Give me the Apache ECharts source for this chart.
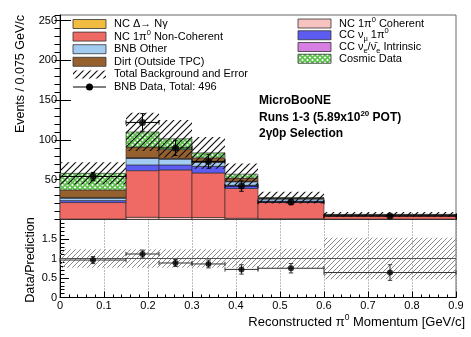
<!DOCTYPE html>
<html><head><meta charset="utf-8">
<script src="https://cdn.jsdelivr.net/npm/echarts@6/dist/echarts.min.js"></script>
<style>html,body{margin:0;padding:0;background:#fff}#c{width:471px;height:337px}</style>
</head><body><div id="c"></div>
<script>
// ---------------- data (per 0.075 GeV/c) ----------------
const binEdges       = [0, 0.15, 0.225, 0.3, 0.375, 0.45, 0.6, 0.9];
const ncCoherent     = [0.6, 2.8, 2.5, 2.5, 1.5, 1.0, 0.5];
const ncNonCoherent  = [20.7, 58.6, 59.8, 56.0, 37.5, 20.5, 4.0];
const ccNumu1pi0     = [2.5, 7.2, 6.3, 8.3, 4.0, 1.5, 0.5];
const bnbOther       = [3.2, 8.4, 7.4, 5.2, 4.5, 3.0, 0.6];
const ccNueIntrinsic = [0.2, 0.3, 0.3, 0.3, 0.2, 0.1, 0.05];
const ncDelta        = [0.6, 0.5, 0.5, 0.4, 0.3, 0.2, 0.1];
const dirt           = [9.4, 13.2, 11.2, 4.8, 4.0, 0.7, 0.3];
const cosmicData     = [20.8, 19.0, 13.5, 6.3, 5.0, 0.5, 0.4];
const bkgError       = [14, 24, 23.5, 20, 13.5, 7.5, 3.1];
const bnbData        = [54, 122, 90, 73, 42, 22, 4.25];
const bnbDataErr     = [5.2, 11, 9.5, 8.5, 6.5, 3.3, 1.0];
const ratioVals      = [0.96, 1.115, 0.885, 0.86, 0.72, 0.75, 0.64];
const ratioErr       = [0.09, 0.10, 0.09, 0.10, 0.12, 0.12, 0.20];
const ratioBand      = [0.24, 0.24, 0.24, 0.24, 0.24, 0.25, 0.53];
const xTickLabels    = ['0','0.1','0.2','0.3','0.4','0.5','0.6','0.7','0.8','0.9'];
const yTickLabelsTop = [50, 100, 150, 200, 250];
const yTickLabelsRatio = [0, 0.5, 1, 1.5];

// ---------------- styling ----------------
const FONT = 'Liberation Sans, Arial, Helvetica, sans-serif';
const C = {
  coh: '#f7c3c1', nonCoh: '#ef6a64', numu: '#5c5cf2', bnbOther: '#a3ccf3',
  nue: '#d77ee2', delta: '#f0bd42', dirt: '#97612f', cosmic: '#5cc24b'
};
function hatchCanvas(size, color, lw) {
  const c = document.createElement('canvas'); c.width = c.height = size;
  const g = c.getContext('2d'); g.strokeStyle = color; g.lineWidth = lw;
  g.beginPath();
  g.moveTo(0, size); g.lineTo(size, 0);
  g.moveTo(-size / 2, size / 2); g.lineTo(size / 2, -size / 2);
  g.moveTo(size / 2, size * 1.5); g.lineTo(size * 1.5, size / 2);
  g.stroke(); return c;
}
function crossCanvas(size, bg, color, lw) {
  const c = document.createElement('canvas'); c.width = c.height = size;
  const g = c.getContext('2d'); g.fillStyle = bg; g.fillRect(0, 0, size, size);
  g.strokeStyle = color; g.lineWidth = lw; g.beginPath();
  g.moveTo(0, 0); g.lineTo(size, size); g.moveTo(0, size); g.lineTo(size, 0);
  g.stroke(); return c;
}
const hatchBlack = { image: hatchCanvas(7, '#111', 1.2), repeat: 'repeat' };
const hatchGray  = { image: hatchCanvas(5, '#8a8a8a', 1), repeat: 'repeat' };
const cosmicFill = { image: crossCanvas(5, '#ffffff', C.cosmic, 1.6), repeat: 'repeat' };

const nb = binEdges.length - 1;

function rectRender(fill, stroke, lw) {
  return function (params, api) {
    const a = api.coord([api.value(0), api.value(3)]);
    const b = api.coord([api.value(1), api.value(2)]);
    return { type: 'rect', shape: { x: a[0], y: a[1], width: b[0] - a[0], height: b[1] - a[1] },
      style: { fill: fill, stroke: stroke, lineWidth: lw } };
  };
}
function errRender(color, cap) {
  return function (params, api) {
    const xc = api.value(0), x0 = api.value(1), x1 = api.value(2), y = api.value(3), e = api.value(4);
    const l = api.coord([x0, y]), r = api.coord([x1, y]);
    const t = api.coord([xc, y + e]), b = api.coord([xc, y - e]);
    const st = { stroke: color, lineWidth: 1 };
    return { type: 'group', children: [
      { type: 'line', shape: { x1: l[0], y1: l[1], x2: r[0], y2: r[1] }, style: st },
      { type: 'line', shape: { x1: l[0], y1: l[1] - cap, x2: l[0], y2: l[1] + cap }, style: st },
      { type: 'line', shape: { x1: r[0], y1: r[1] - cap, x2: r[0], y2: r[1] + cap }, style: st },
      { type: 'line', shape: { x1: t[0], y1: t[1], x2: b[0], y2: b[1] }, style: st },
      { type: 'line', shape: { x1: t[0] - cap, y1: t[1], x2: t[0] + cap, y2: t[1] }, style: st },
      { type: 'line', shape: { x1: b[0] - cap, y1: b[1], x2: b[0] + cap, y2: b[1] }, style: st }
    ] };
  };
}

const components = [
  { name: 'NC 1pi0 Coherent', vals: ncCoherent, fill: C.coh },
  { name: 'NC 1pi0 Non-Coherent', vals: ncNonCoherent, fill: C.nonCoh },
  { name: 'CC numu 1pi0', vals: ccNumu1pi0, fill: C.numu },
  { name: 'BNB Other', vals: bnbOther, fill: C.bnbOther },
  { name: 'CC nue Intrinsic', vals: ccNueIntrinsic, fill: C.nue },
  { name: 'NC Delta', vals: ncDelta, fill: C.delta },
  { name: 'Dirt', vals: dirt, fill: C.dirt },
  { name: 'Cosmic Data', vals: cosmicData, fill: cosmicFill }
];
const series = [];
const cum = new Array(nb).fill(0);
components.forEach(function (c) {
  const rows = [];
  for (let i = 0; i < nb; i++) {
    rows.push([binEdges[i], binEdges[i + 1], cum[i], cum[i] + c.vals[i]]);
    cum[i] += c.vals[i];
  }
  series.push({ type: 'custom', name: c.name, xAxisIndex: 0, yAxisIndex: 0, z: 2,
    renderItem: rectRender(c.fill, 'rgba(40,40,40,0.85)', 0.7), data: rows,
    encode: { x: [0, 1], y: [2, 3] } });
});
const totals = cum.slice();
// total background error band
series.push({ type: 'custom', name: 'Total Background and Error', xAxisIndex: 0, yAxisIndex: 0, z: 3,
  renderItem: rectRender(hatchBlack, null, 0),
  data: totals.map(function (t, i) { return [binEdges[i], binEdges[i + 1], t - bkgError[i], t + bkgError[i]]; }),
  encode: { x: [0, 1], y: [2, 3] } });
// BNB data
const centers = binEdges.slice(0, nb).map(function (e, i) { return (e + binEdges[i + 1]) / 2; });
series.push({ type: 'custom', name: 'BNB Data err', xAxisIndex: 0, yAxisIndex: 0, z: 4,
  renderItem: errRender('#000', 2.2),
  data: bnbData.map(function (v, i) { return [centers[i], binEdges[i], binEdges[i + 1], v, bnbDataErr[i]]; }),
  encode: { x: 0, y: 3 } });
series.push({ type: 'scatter', name: 'BNB Data', xAxisIndex: 0, yAxisIndex: 0, z: 5,
  symbol: 'circle', symbolSize: 7, itemStyle: { color: '#000' },
  data: bnbData.map(function (v, i) { return [centers[i], v]; }) });
// ratio panel
series.push({ type: 'custom', name: 'Ratio band', xAxisIndex: 1, yAxisIndex: 2, z: 2,
  renderItem: rectRender(hatchGray, null, 0),
  data: ratioBand.map(function (b, i) { return [binEdges[i], binEdges[i + 1], 1 - b, 1 + b]; }),
  encode: { x: [0, 1], y: [2, 3] } });
series.push({ type: 'line', name: 'Unity', xAxisIndex: 1, yAxisIndex: 2, z: 3, symbol: 'none',
  lineStyle: { color: '#555', width: 1 }, data: [[binEdges[0], 1], [binEdges[nb], 1]] });
series.push({ type: 'custom', name: 'Ratio err', xAxisIndex: 1, yAxisIndex: 2, z: 4,
  renderItem: errRender('#333', 2.2),
  data: ratioVals.map(function (v, i) { return [centers[i], binEdges[i], binEdges[i + 1], v, ratioErr[i]]; }),
  encode: { x: 0, y: 3 } });
series.push({ type: 'scatter', name: 'Ratio', xAxisIndex: 1, yAxisIndex: 2, z: 5,
  symbol: 'circle', symbolSize: 6, itemStyle: { color: '#000' },
  data: ratioVals.map(function (v, i) { return [centers[i], v]; }) });
// ratio-axis tick labels, placed through the ratio y scale
series.push({ type: 'custom', name: 'Ratio tick labels', xAxisIndex: 1, yAxisIndex: 2, z: 6,
  clip: false, silent: true,
  renderItem: function (params, api) {
    const p = api.coord([binEdges[0], api.value(0)]);
    return { type: 'text', x: p[0] - 3, y: p[1], style: { text: String(api.value(0)), fontSize: 11,
      fontFamily: FONT, fill: '#000', align: 'right', verticalAlign: 'middle' } };
  },
  data: yTickLabelsRatio.map(function (v) { return [v]; }), encode: { y: 0 } });

// ---------------- legend & text (graphic) ----------------
const rich = {
  sup: { fontSize: 7.5, lineHeight: 8, verticalAlign: 'top', fontFamily: FONT, fill: '#000' },
  sub: { fontSize: 7.5, lineHeight: 8, verticalAlign: 'bottom', fontFamily: FONT, fill: '#000' }
};
const richBig = {
  sup: { fontSize: 8.5, lineHeight: 9, verticalAlign: 'top', fontFamily: FONT, fill: '#000' }
};
const legendLeft = [
  { label: 'NC Δ→ Nγ', kind: 'box', fill: C.delta },
  { label: 'NC 1π{sup|0} Non-Coherent', kind: 'box', fill: C.nonCoh },
  { label: 'BNB Other', kind: 'box', fill: C.bnbOther },
  { label: 'Dirt (Outside TPC)', kind: 'box', fill: C.dirt },
  { label: 'Total Background and Error', kind: 'hatch' },
  { label: 'BNB Data, Total: 496', kind: 'data' }
];
const legendRight = [
  { label: 'NC 1π{sup|0} Coherent', kind: 'box', fill: C.coh },
  { label: 'CC ν{sub|μ} 1π{sup|0}', kind: 'box', fill: C.numu },
  { label: 'CC ν{sub|e}/ν\u0304{sub|e} Intrinsic', kind: 'box', fill: C.nue },
  { label: 'Cosmic Data', kind: 'box', fill: cosmicFill }
];
const graphics = [];
function addLegend(items, x0, y0, step) {
  items.forEach(function (it, i) {
    const y = y0 + i * step;
    if (it.kind === 'box') {
      graphics.push({ type: 'rect', shape: { x: x0, y: y - 4.5, width: 33, height: 9 },
        style: { fill: it.fill, stroke: '#333', lineWidth: 0.8 }, z: 10 });
    } else if (it.kind === 'hatch') {
      graphics.push({ type: 'rect', shape: { x: x0, y: y - 4, width: 33, height: 8 },
        style: { fill: hatchBlack }, z: 10 });
    } else {
      graphics.push({ type: 'line', shape: { x1: x0, y1: y, x2: x0 + 33, y2: y },
        style: { stroke: '#000', lineWidth: 1 }, z: 10 });
      graphics.push({ type: 'circle', shape: { cx: x0 + 16.5, cy: y, r: 3.5 },
        style: { fill: '#000' }, z: 10 });
    }
    graphics.push({ type: 'text', x: x0 + 41, y: y, z: 10,
      style: { text: it.label, fontSize: 11, fontFamily: FONT, fill: '#000', lineHeight: 16,
        verticalAlign: 'middle', align: 'left', rich: rich } });
  });
}
addLegend(legendLeft, 73, 24, 12.6);
addLegend(legendRight, 298, 23.5, 11.75);

const boldRich = {
  sup: { fontSize: 8, lineHeight: 8, verticalAlign: 'top', fontFamily: FONT, fontWeight: 'bold', fill: '#000' }
};
['MicroBooNE', 'Runs 1-3 (5.89x10{sup|20} POT)', '2γ0p Selection'].forEach(function (t, i) {
  graphics.push({ type: 'text', x: 259, y: 101 + i * 16.5, z: 10,
    style: { text: t, fontSize: 12, fontWeight: 'bold', fontFamily: FONT, fill: '#000', lineHeight: 16,
      verticalAlign: 'middle', align: 'left', rich: boldRich } });
});
graphics.push({ type: 'text', x: 21, y: 15, rotation: Math.PI / 2, z: 10,
  style: { text: 'Events / 0.075 GeV/c', fontSize: 12.5, fontFamily: FONT, fill: '#000',
    align: 'right', verticalAlign: 'middle' } });
graphics.push({ type: 'text', x: 31, y: 260, rotation: Math.PI / 2, z: 10,
  style: { text: 'Data/Prediction', fontSize: 12.5, fontFamily: FONT, fill: '#000',
    align: 'center', verticalAlign: 'middle' } });
graphics.push({ type: 'text', x: 465, y: 322, z: 10,
  style: { text: 'Reconstructed π{sup|0} Momentum [GeV/c]', fontSize: 13, fontFamily: FONT, fill: '#000',
    lineHeight: 17, align: 'right', verticalAlign: 'middle', rich: richBig } });

// ---------------- chart ----------------
const axisCommon = { axisLine: { show: true, onZero: false, lineStyle: { color: '#000', width: 1 } },
  splitLine: { show: false } };
const option = {
  animation: false,
  backgroundColor: '#fff',
  grid: [
    { left: 60, right: 15, top: 15, height: 204.5, show: true, borderColor: '#666', borderWidth: 1 },
    { left: 60, right: 15, top: 219.5, height: 78, show: true, borderColor: '#666', borderWidth: 1 }
  ],
  xAxis: [
    Object.assign({}, axisCommon, { gridIndex: 0, type: 'value', min: 0, max: 0.9, interval: 0.1,
      axisTick: { inside: true, length: 6, lineStyle: { color: '#000' } },
      minorTick: { show: true, splitNumber: 5, length: 3, lineStyle: { color: '#000' } },
      axisLabel: { show: false } }),
    Object.assign({}, axisCommon, { gridIndex: 1, type: 'value', min: 0, max: 0.9, interval: 0.1,
      axisTick: { inside: true, length: 6, lineStyle: { color: '#000' } },
      minorTick: { show: true, splitNumber: 5, length: 3, lineStyle: { color: '#000' } },
      axisLabel: { show: true, fontSize: 11, fontFamily: FONT, color: '#000', margin: 3,
        showMinLabel: true, showMaxLabel: true, hideOverlap: false,
        formatter: function (v) { return xTickLabels[Math.round(v * 10)] || ''; } },
      splitLine: { show: true, lineStyle: { type: [1, 2], color: '#777', width: 1 } } })
  ],
  yAxis: [
    Object.assign({}, axisCommon, { gridIndex: 0, type: 'value', min: 0, max: 257, interval: 50,
      axisTick: { inside: true, length: 11, lineStyle: { color: '#000' } },
      axisLabel: { fontSize: 11, fontFamily: FONT, color: '#000', margin: 3, showMaxLabel: false,
        formatter: function (v) { return yTickLabelsTop.indexOf(Math.round(v)) >= 0 && Math.abs(v - Math.round(v)) < 1e-6 ? String(Math.round(v)) : ''; } } }),
    { gridIndex: 0, type: 'value', min: 0, max: 257, interval: 10,
      axisLine: { show: false }, splitLine: { show: false }, axisLabel: { show: false },
      axisTick: { show: true, inside: true, length: 5.5, lineStyle: { color: '#000' } } },
    Object.assign({}, axisCommon, { gridIndex: 1, type: 'value', min: 0, max: 2, interval: 0.5,
      axisTick: { inside: true, length: 9, lineStyle: { color: '#000' } },
      minorTick: { show: true, splitNumber: 5, length: 4.5, lineStyle: { color: '#000' } },
      axisLabel: { show: false } })
  ],
  graphic: graphics,
  series: series
};
const chart = echarts.init(document.getElementById('c'));
chart.setOption(option);
</script></body></html>
